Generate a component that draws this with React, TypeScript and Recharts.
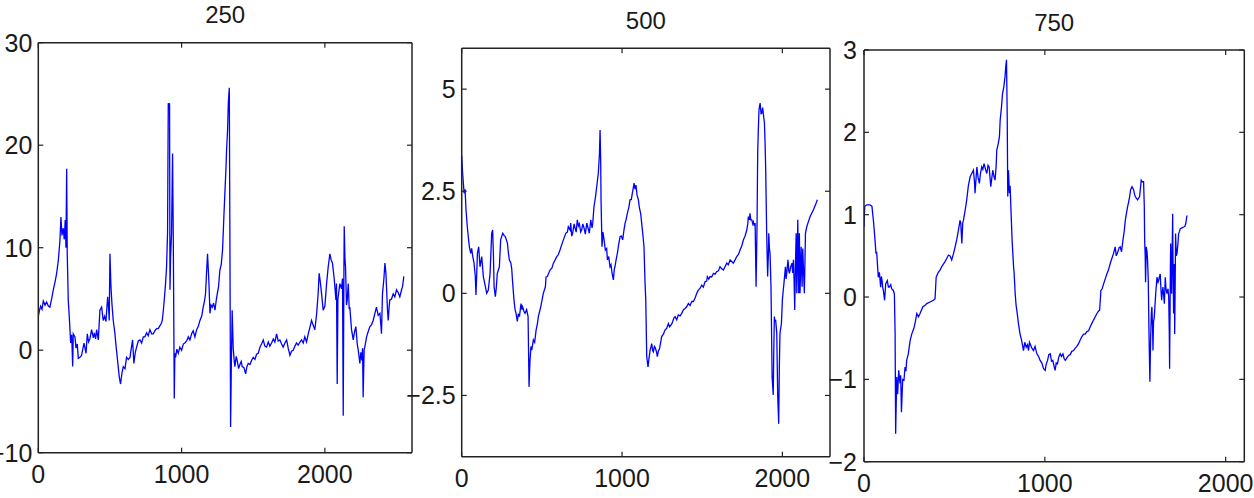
import React from 'react';
import { LineChart, Line, XAxis, YAxis } from 'recharts';

// Panel "250"
const p1X: number[] = [0,7,16,26,35,47,58,70,81,93,105,116,128,140,151,158,165,174,181,188,193,198,202,209,216,226,233,240,244,256,263,272,279,291,302,319,333,342,351,360,372,384,391,400,407,419,430,442,453,463,472,484,491,495,500,507,514,523,535,542,551,565,574,584,593,605,616,628,640,649,658,667,677,686,698,709,721,733,744,756,767,779,791,802,814,826,837,849,858,865,872,879,888,895,902,907,912,916,919,923,930,937,942,949,953,958,967,977,988,1000,1012,1023,1035,1047,1058,1070,1081,1093,1105,1116,1128,1140,1151,1160,1167,1174,1181,1186,1191,1198,1205,1214,1223,1233,1242,1249,1258,1267,1277,1286,1295,1302,1309,1314,1321,1326,1333,1337,1342,1347,1353,1360,1367,1372,1381,1388,1398,1407,1416,1423,1435,1447,1456,1465,1477,1488,1500,1512,1523,1535,1547,1558,1570,1581,1593,1605,1616,1628,1640,1651,1663,1674,1686,1698,1709,1721,1733,1744,1756,1767,1779,1791,1802,1814,1826,1837,1849,1860,1872,1884,1895,1907,1919,1930,1942,1953,1960,1967,1977,1988,2000,2012,2023,2035,2044,2053,2065,2077,2081,2086,2091,2098,2105,2116,2123,2128,2133,2135,2140,2144,2151,2156,2163,2170,2174,2186,2198,2207,2216,2226,2233,2240,2244,2251,2258,2263,2267,2274,2281,2291,2302,2314,2326,2337,2349,2360,2372,2384,2391,2395,2402,2412,2419,2426,2430,2437,2442,2449,2453,2465,2477,2488,2500,2512,2523,2535,2542,2551];
const p1Y: number[] = [3.3,3.8,4.3,4.0,4.8,4.4,4.7,4.3,4.2,5.0,5.9,6.6,7.5,8.8,10.7,13.0,11.2,11.9,10.8,12.7,10.0,17.7,9.4,4.9,3.3,0.7,1.5,-1.6,1.6,1.3,0.2,0.6,-0.8,-0.7,-0.5,0.7,-0.3,1.6,0.8,1.1,2.0,1.2,1.7,1.1,2.0,1.0,3.9,4.2,2.9,3.3,2.8,5.2,4.0,2.9,9.4,6.2,4.5,2.9,1.6,0.5,-0.7,-2.6,-3.3,-2.2,-1.6,-1.8,-0.7,-0.9,-0.7,0.2,1.0,-1.3,-0.2,0.3,0.9,1.0,0.7,1.3,1.3,1.7,1.4,2.0,1.6,1.6,1.9,2.1,2.1,2.4,2.6,2.9,3.8,4.9,6.5,8.1,11.4,24.1,23.5,24.1,5.9,9.0,11.4,19.2,11.0,-4.7,-0.3,-0.7,0.1,-0.3,0.3,0,0.6,0.7,0.9,1.3,1.0,1.6,1.9,1.3,2.0,2.3,2.9,3.3,4.2,4.8,5.5,7.5,9.4,8.0,6.5,3.6,4.4,4.2,4.6,3.9,4.9,5.5,6.2,7.8,8.4,9.8,13.0,15.3,17.5,19.5,21.5,24.1,25.6,11.4,-7.5,-1.6,3.9,0.3,-1.0,-1.6,-0.6,-1.0,-1.8,-1.4,-1.1,-1.6,-1.7,-2.3,-1.6,-1.3,-1.4,-1.0,-0.7,-0.9,-0.4,-0.3,0.3,0.6,1.0,0.4,0.3,0.8,0.4,0.7,1.1,0.8,1.6,0.9,1.0,0.6,0.3,0.7,1.0,0.2,-0.5,-0.1,0,0.4,0.7,0.5,0.8,1.0,0.7,1.3,0.8,1.6,2.2,2.9,2.4,2.0,3.5,5.5,7.5,6.8,5.5,3.9,4.3,6.5,8.1,9.4,8.8,8.5,7.0,4.9,6.5,-3.3,5.0,5.8,6.5,6.0,7.0,-6.4,8.0,12.1,9.0,8.1,4.4,4.9,6.5,4.0,4.2,2.0,1.0,1.8,2.3,0.6,0,-0.8,-1.3,-0.2,-1.0,0.2,-4.6,0,0.5,1.3,1.8,2.3,2.5,2.9,3.6,4.2,3.4,3.6,2.4,1.6,5.5,7.0,8.5,7.5,6.2,3.9,2.9,4.3,4.9,5.0,5.5,5.2,5.9,5.6,5.2,5.9,6.2,7.2];

// Panel "500"
const p2X: number[] = [0,6,15,21,27,35,42,48,56,62,69,77,85,89,94,98,106,114,125,135,148,156,166,177,187,193,198,202,210,216,222,235,243,256,264,272,285,291,297,306,312,318,326,333,339,347,353,360,370,376,380,389,395,405,414,420,426,432,437,447,455,464,472,478,493,509,522,526,534,551,563,572,593,603,613,634,649,659,665,676,680,686,692,701,707,714,721,728,734,742,748,755,763,771,780,788,796,805,813,817,825,834,842,852,859,863,867,869,875,881,888,896,904,909,917,925,931,938,946,952,956,962,971,979,988,996,1004,1012,1019,1025,1033,1042,1050,1058,1064,1071,1075,1081,1087,1094,1102,1108,1116,1123,1129,1137,1143,1148,1154,1162,1168,1175,1181,1185,1191,1195,1202,1208,1216,1220,1227,1233,1241,1247,1258,1268,1279,1289,1297,1310,1316,1324,1331,1341,1351,1362,1372,1383,1393,1403,1414,1424,1435,1445,1455,1466,1476,1486,1497,1507,1518,1528,1532,1541,1549,1559,1570,1580,1590,1601,1611,1622,1632,1642,1653,1663,1674,1684,1694,1705,1715,1726,1736,1746,1757,1767,1778,1784,1788,1794,1798,1803,1809,1815,1819,1825,1830,1836,1842,1846,1850,1854,1861,1867,1871,1877,1884,1888,1892,1896,1900,1902,1908,1913,1915,1919,1923,1929,1936,1943,1946,1950,1954,1958,1965,1971,1977,1981,1985,1994,2000,2006,2010,2019,2023,2027,2035,2040,2044,2052,2060,2064,2069,2073,2077,2081,2086,2090,2096,2100,2102,2106,2110,2117,2123,2127,2131,2137,2144,2152,2162,2173,2183,2193,2206,2218];
const p2Y: number[] = [3.37,2.94,2.45,2.55,2.04,1.63,1.35,1.14,0.98,1.1,0.9,0.74,0.4,-0.04,0.5,0.98,1.14,0.65,0.9,0.41,0.16,0,0.08,0.49,1.47,1.55,0.9,0.16,-0.08,0.15,0.49,0.65,1.31,1.47,1.42,1.39,1.23,1.0,0.82,0.75,0.6,0.25,-0.16,-0.4,-0.49,-0.69,-0.5,-0.57,-0.25,-0.4,-0.33,-0.45,-0.49,-0.4,-0.57,-2.29,-1.63,-1.3,-1.39,-1.14,-1.2,-0.9,-0.75,-0.57,-0.33,0,0.16,0.4,0.41,0.57,0.62,0.74,0.9,0.95,1.06,1.31,1.47,1.5,1.63,1.55,1.72,1.4,1.47,1.7,1.6,1.5,1.8,1.65,1.7,1.5,1.55,1.7,1.6,1.45,1.72,1.6,1.47,1.8,1.6,1.7,2.12,2.35,2.61,2.94,3.4,4.0,3.2,2.29,1.14,1.5,1.31,1.06,1.1,0.82,0.9,0.65,0.7,0.49,0.33,0.6,0.65,0.8,0.98,1.2,1.39,1.4,1.31,1.55,1.72,1.8,1.96,2.1,2.29,2.3,2.45,2.6,2.7,2.55,2.65,2.4,2.29,2.1,1.96,1.7,1.47,1.14,0.3,-0.16,-1.55,-1.8,-1.6,-1.39,-1.3,-1.23,-1.4,-1.43,-1.3,-1.34,-1.45,-1.55,-1.4,-1.37,-1.2,-1.06,-1.0,-0.9,-0.85,-0.74,-0.82,-0.75,-0.69,-0.6,-0.57,-0.65,-0.53,-0.55,-0.49,-0.4,-0.37,-0.33,-0.25,-0.3,-0.2,-0.2,-0.12,0,0.08,0.12,0.2,0.15,0.29,0.3,0.41,0.35,0.41,0.4,0.49,0.47,0.53,0.55,0.65,0.6,0.57,0.65,0.74,0.7,0.82,0.78,0.74,0.82,0.9,0.95,1.06,1.15,1.31,1.4,1.55,1.7,1.88,1.8,1.96,1.8,1.8,1.7,1.75,1.65,1.72,0.16,1.7,3.43,4.0,4.49,4.66,4.4,4.41,4.55,4.3,4.17,3.7,3.02,2.0,1.47,0.41,1.0,1.47,1.1,0.98,0.16,-2.04,-2.49,-1.5,-0.57,-0.7,-0.65,-0.98,-2.53,-3.19,-1.8,-0.98,-0.74,-0.16,0.1,0.25,0.65,0.35,0.49,0.82,0.55,0.49,0.65,0.74,0.5,0.82,0.3,-0.41,0.6,1.47,0,1.8,0.5,0,1.47,0,1.14,0.16,1.1,0.65,0,1.47,1.63,1.75,1.88,1.96,2.04,2.16,2.29];

// Panel "750"
const p3X: number[] = [0,4,15,33,44,52,57,61,66,70,74,79,85,89,92,96,100,103,107,114,120,129,135,140,148,153,162,168,172,175,181,186,192,199,203,207,214,221,227,232,236,245,255,264,277,284,292,301,310,325,338,347,365,384,393,399,411,421,430,439,448,458,467,476,485,494,504,513,522,531,535,541,546,550,559,568,577,587,596,605,611,614,620,624,631,638,644,651,657,664,672,679,686,692,697,701,707,712,720,725,731,734,743,749,753,760,766,773,780,784,788,792,795,799,804,808,812,819,827,830,836,841,845,854,863,872,882,889,897,904,910,915,919,928,937,946,956,965,974,983,993,1002,1007,1015,1022,1030,1037,1044,1052,1057,1063,1070,1077,1085,1092,1100,1107,1113,1122,1131,1140,1149,1159,1168,1177,1186,1196,1205,1214,1223,1232,1242,1251,1260,1269,1279,1288,1297,1303,1310,1317,1325,1334,1343,1352,1362,1371,1380,1389,1395,1404,1411,1417,1424,1432,1439,1445,1450,1458,1463,1469,1474,1482,1487,1491,1496,1500,1506,1513,1518,1524,1530,1533,1539,1546,1550,1552,1555,1557,1561,1565,1568,1572,1576,1581,1585,1589,1592,1596,1598,1601,1605,1613,1620,1626,1629,1635,1638,1642,1646,1649,1653,1657,1661,1666,1670,1675,1681,1685,1688,1690,1694,1696,1699,1701,1705,1707,1708,1712,1716,1718,1721,1723,1727,1731,1736,1740,1745,1749,1758,1768,1775,1779,1786];
const p3Y: number[] = [0.85,1.1,1.12,1.12,1.1,0.93,0.8,0.69,0.53,0.55,0.41,0.24,0.3,0.2,0.12,0.25,0.2,0.12,0.08,-0.04,0.16,0.2,0.12,0.12,0.15,0.1,0.08,0.04,-0.45,-1.66,-0.97,-1.18,-0.89,-1.05,-0.95,-1.4,-1.0,-1.01,-0.85,-0.9,-0.77,-0.69,-0.53,-0.45,-0.37,-0.3,-0.2,-0.24,-0.2,-0.12,-0.1,-0.08,-0.06,-0.04,-0.02,0.24,0.3,0.33,0.37,0.4,0.43,0.47,0.51,0.5,0.45,0.52,0.61,0.7,0.81,0.93,0.9,0.65,0.9,0.93,1.05,1.18,1.35,1.46,1.5,1.54,1.4,1.26,1.45,1.58,1.45,1.38,1.5,1.58,1.55,1.62,1.55,1.5,1.6,1.58,1.45,1.34,1.45,1.54,1.45,1.42,1.6,1.78,1.87,1.95,2.15,2.3,2.47,2.55,2.68,2.8,2.88,2.19,1.22,1.54,1.26,1.35,1.1,0.69,0.37,0.3,0.04,-0.1,-0.16,-0.32,-0.45,-0.53,-0.65,-0.55,-0.61,-0.58,-0.65,-0.55,-0.57,-0.62,-0.65,-0.6,-0.69,-0.72,-0.77,-0.8,-0.87,-0.89,-0.82,-0.77,-0.7,-0.69,-0.78,-0.77,-0.85,-0.89,-0.8,-0.81,-0.73,-0.69,-0.72,-0.69,-0.75,-0.77,-0.74,-0.71,-0.7,-0.66,-0.65,-0.62,-0.6,-0.57,-0.52,-0.48,-0.45,-0.45,-0.42,-0.41,-0.36,-0.32,-0.28,-0.24,-0.2,-0.17,-0.16,0.08,0.1,0.16,0.22,0.28,0.33,0.41,0.47,0.53,0.61,0.5,0.55,0.6,0.61,0.55,0.69,0.8,0.93,1.0,1.1,1.15,1.22,1.3,1.34,1.32,1.3,1.25,1.22,1.2,1.18,1.2,1.22,1.35,1.42,1.4,1.4,1.1,0.69,0.5,0.18,0.61,0.55,0.45,0.2,-0.45,-1.03,-0.5,-0.2,-0.12,-0.4,-0.65,-0.3,-0.25,0.04,0.24,0.18,0.2,0.26,0.28,0.1,-0.04,0.05,0.12,0.02,-0.08,0.24,0.1,0.04,0.1,0,-0.4,-0.87,0.3,0.65,0.2,0.04,0.7,1.01,0.6,-0.2,0.4,-0.45,0.2,0.77,0.5,0.53,0.65,0.77,0.8,0.83,0.84,0.85,0.86,0.89,0.99];

const xTicks: number[] = [0, 1000, 2000];
const p1YTicks: number[] = [-10, 0, 10, 20, 30];
const p2YTicks: number[] = [-2.5, 0, 2.5, 5];
const p3YTicks: number[] = [-2, -1, 0, 1, 2, 3];

const FONT = '"Liberation Sans", Arial, Helvetica, sans-serif';
const TXT = '#1a1a1a';
const BOX = '#222';
const AX = 1; // thickness reserved for each axis
const FS = 25;

const fmt = (v: number) => (v < 0 ? '\u2212' + Math.abs(v) : String(v));
const noTick = () => <g />;

type PanelProps = {
  title: string;
  xs: number[];
  ys: number[];
  xMax: number;
  yDomain: [number, number];
  yTicks: number[];
  box: { left: number; top: number; right: number; bottom: number };
  yTickMargin: number;
};

function Panel({ title, xs, ys, xMax, yDomain, yTicks, box, yTickMargin }: PanelProps) {
  const data = xs.map((x, i) => ({ x, y: ys[i] }));
  const margin = {
    left: box.left - AX,
    top: box.top - AX,
    right: 1254 - box.right - AX,
    bottom: 498 - box.bottom - AX,
  };
  const axisLine = { stroke: BOX, strokeWidth: 1.5 };
  const tickLine = { stroke: BOX, strokeWidth: 1.2 };
  const tickStyle = { fill: TXT, fontSize: FS, fontFamily: FONT };
  return (
    <div style={{ position: 'absolute', left: 0, top: 0 }}>
      <LineChart width={1254} height={498} data={data} margin={margin}>
        <XAxis
          xAxisId={0}
          type="number"
          dataKey="x"
          domain={[0, xMax]}
          ticks={xTicks}
          orientation="bottom"
          height={AX}
          tickSize={-5}
          tickMargin={18}
          axisLine={axisLine}
          tickLine={tickLine}
          tick={tickStyle}
          allowDataOverflow
        />
        <XAxis
          xAxisId="t"
          type="number"
          dataKey="x"
          domain={[0, xMax]}
          ticks={xTicks}
          orientation="top"
          height={AX}
          tickSize={-5}
          axisLine={axisLine}
          tickLine={tickLine}
          tick={noTick}
          allowDataOverflow
          label={{ value: title, position: 'top', offset: 18.5, fill: TXT, fontSize: 24, fontFamily: FONT }}
        />
        <YAxis
          yAxisId={0}
          type="number"
          domain={yDomain}
          ticks={yTicks}
          orientation="left"
          width={AX}
          tickSize={-5}
          tickMargin={yTickMargin}
          axisLine={axisLine}
          tickLine={tickLine}
          tick={tickStyle}
          tickFormatter={fmt}
          allowDataOverflow
        />
        <YAxis
          yAxisId="r"
          type="number"
          domain={yDomain}
          ticks={yTicks}
          orientation="right"
          width={AX}
          tickSize={-5}
          axisLine={axisLine}
          tickLine={tickLine}
          tick={noTick}
          allowDataOverflow
        />
        <Line
          xAxisId={0}
          yAxisId={0}
          type="linear"
          dataKey="y"
          stroke="#0000ff"
          strokeWidth={1.3}
          dot={false}
          activeDot={false}
          isAnimationActive={false}
        />
      </LineChart>
    </div>
  );
}

export default function App() {
  return (
    <div style={{ position: 'absolute', left: 0, top: 0, width: 1254, height: 498, background: '#fff', overflow: 'hidden' }}>
      <Panel
        title="250"
        xs={p1X}
        ys={p1Y}
        xMax={2608}
        yDomain={[-10, 30]}
        yTicks={p1YTicks}
        box={{ left: 38.3, top: 42.7, right: 412, bottom: 452.7 }}
        yTickMargin={11}
      />
      <Panel
        title="500"
        xs={p2X}
        ys={p2Y}
        xMax={2297}
        yDomain={[-4, 6]}
        yTicks={p2YTicks}
        box={{ left: 461.7, top: 48.3, right: 830, bottom: 456.7 }}
        yTickMargin={11}
      />
      <Panel
        title="750"
        xs={p3X}
        ys={p3Y}
        xMax={2103}
        yDomain={[-2, 3]}
        yTicks={p3YTicks}
        box={{ left: 864, top: 50, right: 1244.3, bottom: 461.7 }}
        yTickMargin={12}
      />
    </div>
  );
}
